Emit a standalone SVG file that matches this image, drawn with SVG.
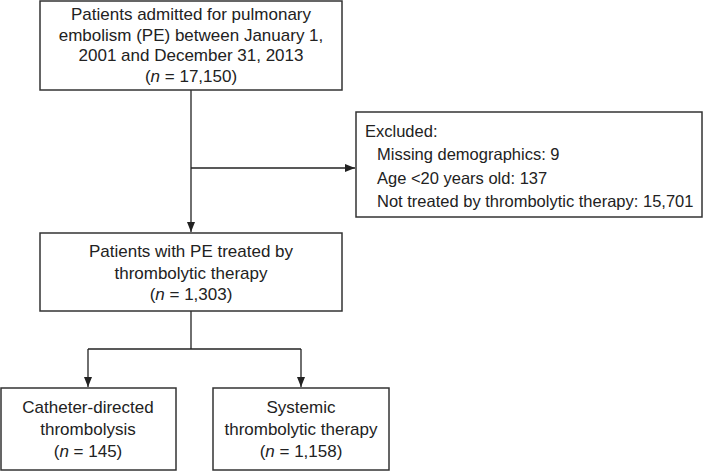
<svg xmlns="http://www.w3.org/2000/svg" width="709" height="471" viewBox="0 0 709 471">
<defs>
<marker id="arr" viewBox="0 0 10 10" refX="10" refY="5" markerWidth="10" markerHeight="10" markerUnits="userSpaceOnUse" orient="auto">
<path d="M0,1 L10,5 L0,9 z" fill="#222"/>
</marker>
<style>
.box{fill:#fff;stroke:#333;stroke-width:1.5}
.t{font-family:"Liberation Sans",Arial,sans-serif;font-size:17px;fill:#222}
.s{font-size:16.5px}
.c{text-anchor:middle}
.ln{fill:none;stroke:#222;stroke-width:1.3}
</style>
</defs>
<rect width="709" height="471" fill="#fff"/>
<g id="connectors">
<path class="ln" d="M191,90 V232" marker-end="url(#arr)"/>
<path class="ln" d="M191,168 H355" marker-end="url(#arr)"/>
<path class="ln" d="M191,311 V349"/>
<path class="ln" d="M88,349 H301"/>
<path class="ln" d="M88,349 V387" marker-end="url(#arr)"/>
<path class="ln" d="M301,349 V387" marker-end="url(#arr)"/>
</g>
<g id="n1">
<rect class="box" x="40" y="1" width="302" height="89"/>
<text class="t c" x="191" y="20">Patients admitted for pulmonary</text>
<text class="t c" x="191" y="40.5">embolism (PE) between January 1,</text>
<text class="t c" x="191" y="61">2001 and December 31, 2013</text>
<text class="t c" x="191" y="82">(<tspan font-style="italic">n</tspan> = 17,150)</text>
</g>
<g id="excluded">
<rect class="box" x="356" y="112" width="346" height="105"/>
<text class="t s" x="365" y="137">Excluded:</text>
<text class="t s" x="377" y="160">Missing demographics: 9</text>
<text class="t s" x="377" y="183.5">Age &lt;20 years old: 137</text>
<text class="t s" x="377" y="207">Not treated by thrombolytic therapy: 15,701</text>
</g>
<g id="n2">
<rect class="box" x="40" y="233" width="302" height="78"/>
<text class="t c" x="191" y="257">Patients with PE treated by</text>
<text class="t c" x="191" y="278.5">thrombolytic therapy</text>
<text class="t c" x="191" y="300">(<tspan font-style="italic">n</tspan> = 1,303)</text>
</g>
<g id="n3">
<rect class="box" x="1" y="388" width="175" height="82"/>
<text class="t c" x="88" y="413">Catheter-directed</text>
<text class="t c" x="88" y="435">thrombolysis</text>
<text class="t c" x="88" y="457">(<tspan font-style="italic">n</tspan> = 145)</text>
</g>
<g id="n4">
<rect class="box" x="213" y="388" width="176" height="82"/>
<text class="t c" x="301" y="413">Systemic</text>
<text class="t c" x="301" y="435">thrombolytic therapy</text>
<text class="t c" x="301" y="457">(<tspan font-style="italic">n</tspan> = 1,158)</text>
</g>
</svg>
